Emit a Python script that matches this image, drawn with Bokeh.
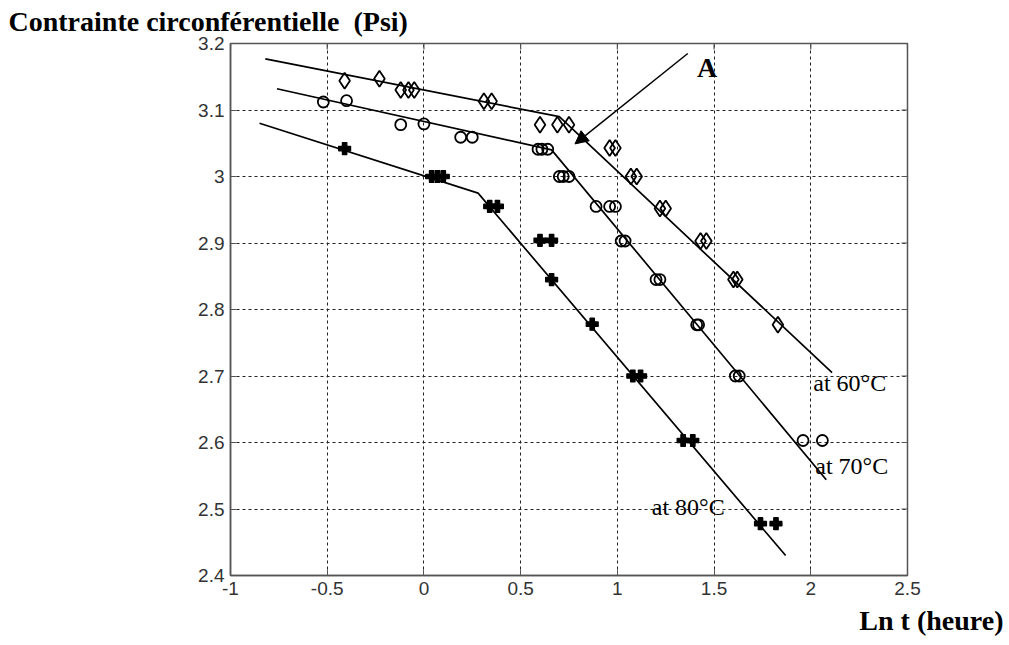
from bokeh.plotting import figure
from bokeh.models import Range1d, FixedTicker, Label, Arrow, NormalHead, Title
from bokeh.embed import file_html
from bokeh.resources import INLINE

# ---- data ----
x_ticks = [-1, -0.5, 0, 0.5, 1, 1.5, 2, 2.5]
x_tick_labels = ["-1", "-0.5", "0", "0.5", "1", "1.5", "2", "2.5"]
y_ticks = [2.4, 2.5, 2.6, 2.7, 2.8, 2.9, 3.0, 3.1, 3.2]
y_tick_labels = ["2.4", "2.5", "2.6", "2.7", "2.8", "2.9", "3", "3.1", "3.2"]

# 60 degC : diamonds
t60_x = [-0.41, -0.23, -0.12, -0.08, -0.05, 0.31, 0.35, 0.60, 0.69, 0.75,
         0.96, 0.99, 1.07, 1.10, 1.22, 1.25, 1.43, 1.46, 1.60, 1.62, 1.83]
t60_y = [3.144, 3.147, 3.130, 3.130, 3.130, 3.113, 3.113, 3.078, 3.078, 3.078,
         3.043, 3.043, 3.0, 3.0, 2.952, 2.952, 2.903, 2.903, 2.845, 2.845, 2.777]
# 70 degC : circles
t70_x = [-0.52, -0.40, -0.12, 0.00, 0.19, 0.25, 0.59, 0.61, 0.64, 0.70, 0.72, 0.75,
         0.89, 0.96, 0.99, 1.02, 1.04, 1.20, 1.22, 1.41, 1.42, 1.61, 1.63, 1.96, 2.06]
t70_y = [3.112, 3.114, 3.078, 3.079, 3.059, 3.059, 3.041, 3.041, 3.041, 3.0, 3.0, 3.0,
         2.955, 2.955, 2.955, 2.903, 2.903, 2.845, 2.845, 2.777, 2.777, 2.70, 2.70, 2.603, 2.603]
# 80 degC : filled crosses
t80_x = [-0.41, 0.04, 0.07, 0.10, 0.34, 0.38, 0.60, 0.66, 0.66, 0.87,
         1.08, 1.12, 1.34, 1.39, 1.74, 1.82]
t80_y = [3.042, 3.0, 3.0, 3.0, 2.955, 2.955, 2.904, 2.904, 2.845, 2.778,
         2.70, 2.70, 2.603, 2.603, 2.478, 2.478]

# bilinear fit lines
fit60_x = [-0.82, 0.70, 2.11]
fit60_y = [3.177, 3.090, 2.705]
fit70_x = [-0.76, 0.66, 2.08]
fit70_y = [3.132, 3.040, 2.544]
fit80_x = [-0.85, 0.28, 1.87]
fit80_y = [3.080, 2.975, 2.430]

X0, X1, Y0, Y1 = -1, 2.5, 2.4, 3.2
FW, FH = 677, 532

p = figure(output_backend="svg", toolbar_location=None,
           x_range=Range1d(X0, X1), y_range=Range1d(Y0, Y1),
           frame_width=FW, frame_height=FH,
           min_border_left=230, min_border_top=43,
           min_border_right=101, min_border_bottom=69,
           background_fill_color="white", border_fill_color="white")

p.outline_line_color = "#555555"
p.outline_line_width = 1.5

for ax in p.xaxis:
    ax.ticker = FixedTicker(ticks=x_ticks)
    ax.major_label_overrides = dict(zip(x_ticks, x_tick_labels))
for ax in p.yaxis:
    ax.ticker = FixedTicker(ticks=y_ticks)
    ax.major_label_overrides = dict(zip(y_ticks, y_tick_labels))

for ax in list(p.xaxis) + list(p.yaxis):
    ax.axis_line_color = "#555555"
    ax.axis_line_width = 1.5
    ax.major_tick_in = 6
    ax.major_tick_out = 0
    ax.major_tick_line_color = "#555555"
    ax.minor_tick_line_color = None
    ax.major_label_text_font = "Liberation Sans"
    ax.major_label_text_font_size = "19px"
    ax.major_label_text_color = "#333333"
    ax.major_label_standoff = 6

# inward tick marks on the top and right frame edges (from the tick lists)
tx = (X1 - X0) * 6 / FW
ty = (Y1 - Y0) * 6 / FH
p.segment(x0=x_ticks, y0=[Y1] * len(x_ticks), x1=x_ticks, y1=[Y1 - ty] * len(x_ticks),
          line_color="#555555", line_width=1.2)
p.segment(x0=[X1] * len(y_ticks), y0=y_ticks, x1=[X1 - tx] * len(y_ticks), y1=y_ticks,
          line_color="#555555", line_width=1.2)

p.xgrid.ticker = FixedTicker(ticks=x_ticks)
p.ygrid.ticker = FixedTicker(ticks=y_ticks)
for g in (p.xgrid[0], p.ygrid[0]):
    g.grid_line_color = "#222222"
    g.grid_line_dash = "3 3"
    g.grid_line_width = 1

# fit lines
for fx, fy in ((fit60_x, fit60_y), (fit70_x, fit70_y), (fit80_x, fit80_y)):
    p.line(fx, fy, line_color="black", line_width=1.7)

# markers
p.scatter(t60_x, t60_y, marker="diamond", size=16, fill_color=None,
          line_color="black", line_width=1.8)
p.scatter(t70_x, t70_y, marker="circle", size=11, fill_color=None,
          line_color="black", line_width=1.8)
p.scatter(t80_x, t80_y, marker="plus", size=12, fill_color="black",
          line_color="black", line_width=1.2)

# curve labels
serif = "Liberation Serif"
for txt, lx, ly in (("at 60°C", 2.013, 2.690), ("at 70°C", 2.023, 2.564), ("at 80°C", 1.178, 2.503)):
    p.add_layout(Label(x=lx, y=ly, text=txt, text_font=serif, text_font_size="24px",
                       text_color="black", text_baseline="middle", text_align="left"))

# arrow A
p.add_layout(Arrow(x_start=1.364, y_start=3.185, x_end=0.781, y_end=3.049,
                   line_color="black", line_width=1.5,
                   end=NormalHead(size=13, fill_color="black", line_color="black")))
p.add_layout(Label(x=1.464, y=3.164, text="A", text_font=serif, text_font_style="bold",
                   text_font_size="28px", text_color="black",
                   text_baseline="middle", text_align="center"))

# axis titles placed like in the reference
p.title.text = "Contrainte circonférentielle \u00a0(Psi)"
p.title.align = "left"
p.title.vertical_align = "top"
p.title.standoff = 10
p.title.offset = -222
p.title.text_font = serif
p.title.text_font_style = "bold"
p.title.text_font_size = "28px"
p.title.text_color = "black"

p.add_layout(Title(text="Ln t (heure)", align="right", offset=-96,
                   text_font=serif, text_font_style="bold", text_font_size="28px",
                   text_color="black"), "below")

open("out.html", "w").write(file_html(p, INLINE))
